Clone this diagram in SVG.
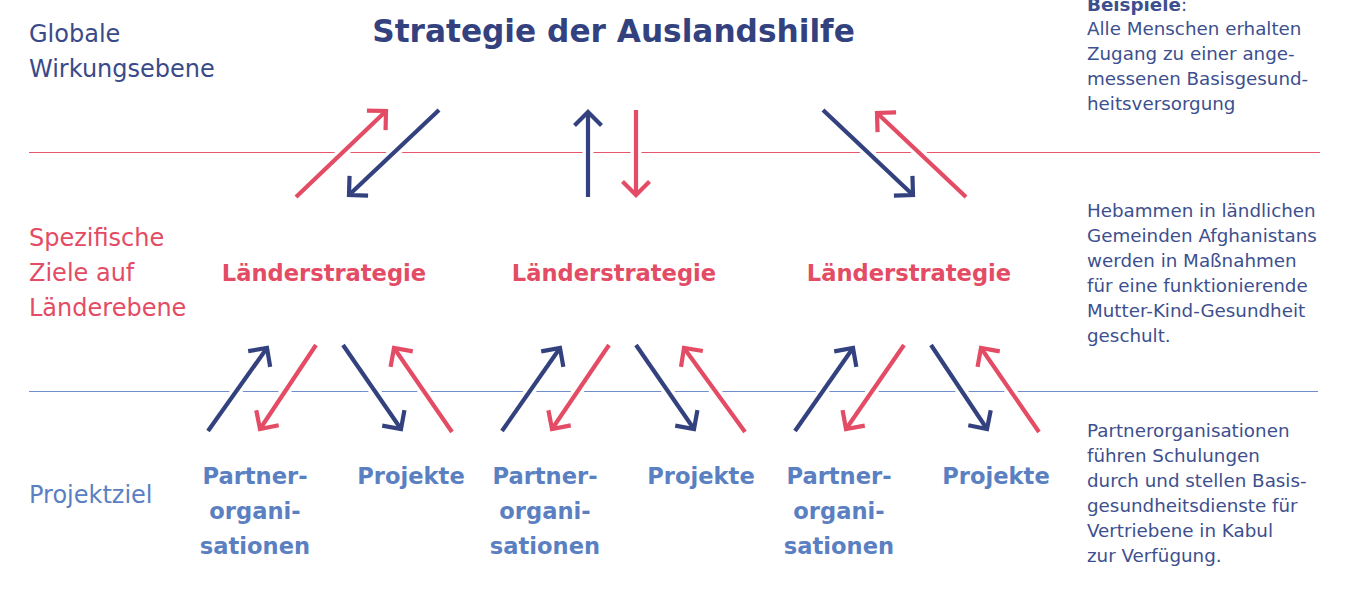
<svg xmlns="http://www.w3.org/2000/svg" width="1358" height="592" viewBox="0 0 1358 592">
<style>
.lvl{font-family:"DejaVu Sans",sans-serif;font-size:24px}
.note{font-family:"DejaVu Sans",sans-serif;font-size:18.3px;fill:#3d4f8e}
.bold{font-family:"DejaVu Sans",sans-serif;font-weight:bold;font-size:22.6px;text-anchor:middle}
.red{fill:#e34c64}
.lb{fill:#5a80c2}
.db{fill:#33427f}
.under{stroke:#fff;stroke-width:11;fill:none}
.ar{stroke-width:4.2;fill:none}
.ar.r{stroke:#e34c64;marker-end:url(#hr)}
.ar.b{stroke:#33427f;marker-end:url(#hb)}
</style>
<defs>
<marker id="hr" markerUnits="userSpaceOnUse" markerWidth="40" markerHeight="40" refX="0" refY="0" orient="auto" overflow="visible" viewBox="-20 -20 40 40">
<path d="M-13.5,-13.5 L0,0 L-13.5,13.5" fill="none" stroke="#e34c64" stroke-width="4.2"/>
</marker>
<marker id="hb" markerUnits="userSpaceOnUse" markerWidth="40" markerHeight="40" refX="0" refY="0" orient="auto" overflow="visible" viewBox="-20 -20 40 40">
<path d="M-13.5,-13.5 L0,0 L-13.5,13.5" fill="none" stroke="#33427f" stroke-width="4.2"/>
</marker>
</defs>
<rect width="1358" height="592" fill="#fff"/>
<g id="dividers">
<line x1="29" y1="152.5" x2="1320" y2="152.5" stroke="#e8566e" stroke-width="1.2"/>
<line x1="29" y1="391.5" x2="1318" y2="391.5" stroke="#6f8fcc" stroke-width="1.2"/>
</g>
<g id="title"><text x="613.5" y="42" class="db" font-family="DejaVu Sans, sans-serif" font-weight="bold" font-size="31.2" text-anchor="middle">Strategie der Auslandshilfe</text></g>
<g id="level-global"><text class="lvl db" x="29" y="42" style="fill:#3a4a88">Globale<tspan x="29" y="77">Wirkungsebene</tspan></text></g>
<g id="level-country"><text class="lvl red" x="29" y="246">Spezifische<tspan x="29" y="281">Ziele auf</tspan><tspan x="29" y="316">Länderebene</tspan></text></g>
<g id="level-project"><text class="lvl lb" x="29" y="503">Projektziel</text></g>
<g id="connectors">
<g class="under">
<line x1="296" y1="197" x2="386" y2="111"/>
<line x1="439" y1="110" x2="349" y2="195"/>
<line x1="588" y1="197" x2="588" y2="112"/>
<line x1="636" y1="110" x2="636" y2="195"/>
<line x1="823" y1="110" x2="913" y2="195"/>
<line x1="966" y1="197" x2="877" y2="113"/>
<line x1="208" y1="431" x2="267" y2="348"/>
<line x1="316" y1="345" x2="260" y2="429"/>
<line x1="343" y1="345" x2="401" y2="429"/>
<line x1="452" y1="432" x2="394" y2="348"/>
<line x1="502" y1="431" x2="560" y2="348"/>
<line x1="609" y1="345" x2="552" y2="429"/>
<line x1="636" y1="345" x2="694" y2="429"/>
<line x1="745" y1="432" x2="684" y2="348"/>
<line x1="795" y1="431" x2="853" y2="348"/>
<line x1="904" y1="345" x2="846" y2="429"/>
<line x1="931" y1="345" x2="987" y2="429"/>
<line x1="1039" y1="432" x2="981" y2="348"/>
</g>
<line class="ar r" x1="296" y1="197" x2="386" y2="111"/>
<line class="ar b" x1="439" y1="110" x2="349" y2="195"/>
<line class="ar b" x1="588" y1="197" x2="588" y2="112"/>
<line class="ar r" x1="636" y1="110" x2="636" y2="195"/>
<line class="ar b" x1="823" y1="110" x2="913" y2="195"/>
<line class="ar r" x1="966" y1="197" x2="877" y2="113"/>
<line class="ar b" x1="208" y1="431" x2="267" y2="348"/>
<line class="ar r" x1="316" y1="345" x2="260" y2="429"/>
<line class="ar b" x1="343" y1="345" x2="401" y2="429"/>
<line class="ar r" x1="452" y1="432" x2="394" y2="348"/>
<line class="ar b" x1="502" y1="431" x2="560" y2="348"/>
<line class="ar r" x1="609" y1="345" x2="552" y2="429"/>
<line class="ar b" x1="636" y1="345" x2="694" y2="429"/>
<line class="ar r" x1="745" y1="432" x2="684" y2="348"/>
<line class="ar b" x1="795" y1="431" x2="853" y2="348"/>
<line class="ar r" x1="904" y1="345" x2="846" y2="429"/>
<line class="ar b" x1="931" y1="345" x2="987" y2="429"/>
<line class="ar r" x1="1039" y1="432" x2="981" y2="348"/>
</g>
<g id="country-1"><text class="bold red" x="324" y="281">Länderstrategie</text></g>
<g id="country-2"><text class="bold red" x="614" y="281">Länderstrategie</text></g>
<g id="country-3"><text class="bold red" x="909" y="281">Länderstrategie</text></g>
<g id="partner-1"><text class="bold lb" x="255" y="484">Partner-<tspan x="255" y="519">organi-</tspan><tspan x="255" y="554">sationen</tspan></text></g>
<g id="projekte-1"><text class="bold lb" x="411" y="484">Projekte</text></g>
<g id="partner-2"><text class="bold lb" x="545" y="484">Partner-<tspan x="545" y="519">organi-</tspan><tspan x="545" y="554">sationen</tspan></text></g>
<g id="projekte-2"><text class="bold lb" x="701" y="484">Projekte</text></g>
<g id="partner-3"><text class="bold lb" x="839" y="484">Partner-<tspan x="839" y="519">organi-</tspan><tspan x="839" y="554">sationen</tspan></text></g>
<g id="projekte-3"><text class="bold lb" x="996" y="484">Projekte</text></g>
<g id="note-global"><text class="note" x="1087" y="11"><tspan font-weight="bold">Beispiele</tspan>:<tspan x="1087" y="35">Alle Menschen erhalten</tspan><tspan x="1087" y="60">Zugang zu einer ange-</tspan><tspan x="1087" y="85">messenen Basisgesund-</tspan><tspan x="1087" y="110">heitsversorgung</tspan></text></g>
<g id="note-country"><text class="note" x="1087" y="217">Hebammen in ländlichen<tspan x="1087" y="242">Gemeinden Afghanistans</tspan><tspan x="1087" y="267">werden in Maßnahmen</tspan><tspan x="1087" y="292">für eine funktionierende</tspan><tspan x="1087" y="317">Mutter-Kind-Gesundheit</tspan><tspan x="1087" y="342">geschult.</tspan></text></g>
<g id="note-project"><text class="note" x="1087" y="437">Partnerorganisationen<tspan x="1087" y="462">führen Schulungen</tspan><tspan x="1087" y="487">durch und stellen Basis-</tspan><tspan x="1087" y="512">gesundheitsdienste für</tspan><tspan x="1087" y="537">Vertriebene in Kabul</tspan><tspan x="1087" y="562">zur Verfügung.</tspan></text></g>
</svg>
